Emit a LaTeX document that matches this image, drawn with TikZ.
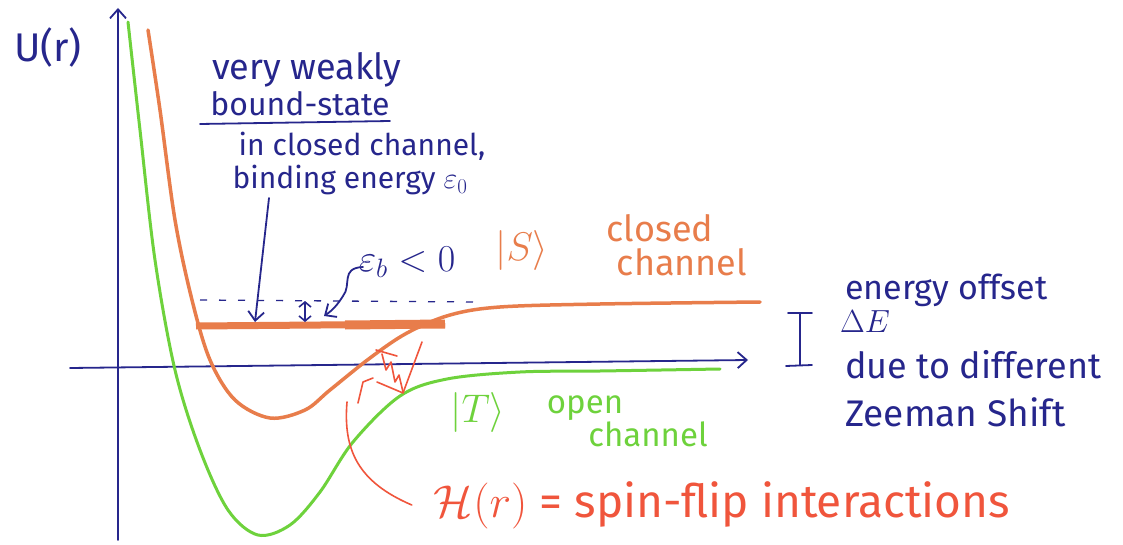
\RequirePackage{fix-cm}
\documentclass[tikz,border=0pt]{standalone}
\usepackage{fontspec}
\setmainfont{Fira Sans}
\usetikzlibrary{arrows.meta,calc}
\definecolor{pen}{RGB}{38,38,140}
\definecolor{closedc}{RGB}{232,125,75}
\definecolor{openc}{RGB}{110,210,60}
\definecolor{flipc}{RGB}{240,85,60}
\tikzset{
  penline/.style={draw=pen, line width=1.8pt, line cap=round, line join=round},
  closedline/.style={draw=closedc, line width=3.5pt, line cap=round},
  openline/.style={draw=openc, line width=3pt, line cap=round},
  flipline/.style={draw=flipc, line width=1.6pt, line cap=round, line join=round},
  barb/.style={-{Straight Barb[length=9pt,width=16pt,line width=1.8pt]}},
  txt/.style={inner sep=0pt, font=\fontsize{#1}{#1}\selectfont},
  txt/.default=30
}
\begin{document}
\begin{tikzpicture}[x=1pt,y=-1pt]
\useasboundingbox[fill=white] (0,0) rectangle (1123,545);

% axes
\coordinate (yB) at (118,540);
\coordinate (yT) at (118,8);
\coordinate (xL) at (70,368);
\coordinate (xR) at (748,360);
\draw[penline,barb] (yB) -- (yT);
\draw[penline,barb] (xL) -- (xR);
\node[txt=40,text=pen] (U) at (48,48) {U(r)};

% open channel (green)
\draw[openline] plot[smooth,tension=0.55] coordinates {(128,22) (140,130) (155,260) (175,370) (200,450) (228,510) (258,535) (290,525) (320,492) (353,442) (400,396) (447,379) (520,372) (600,371) (720,369)};

% closed channel (orange)
\draw[closedline] plot[smooth,tension=0.55] coordinates {(148,30) (160,110) (175,220) (192,300) (210,360) (235,400) (270,418) (305,410) (330,390) (370,358) (407,333) (450,315) (500,307) (600,304) (760,302)};

% bound state line
\coordinate (bsL) at (196,326);
\coordinate (bsR) at (445,324);
\coordinate (bsA) at (255,322);
\draw[draw=closedc, line width=7pt] (bsL) -- (bsR);
\draw[draw=closedc, line width=9pt] (345,325) -- (445,324);

% dashed level
\coordinate (dL) at (200,300);
\coordinate (dR) at (475,302);
\draw[pen, line width=1.3pt, dash pattern=on 7pt off 12pt] (dL) -- (dR);

% annotation text
\node[txt=36,text=pen] (weakly) at (307,70) {very weakly};
\node[txt=32,text=pen] (bound) at (300,104) {bound-state};
\draw[penline] (200,124) -- (390,121);
\node[txt=30,text=pen] (inclosed) at (362,146) {in closed channel,};
\node[txt=30,text=pen] (binding) at (350,180) {binding energy $\varepsilon_0$};
\coordinate (arrTop) at (269,198);
\draw[penline,barb] (arrTop) -- (bsA);

% small double arrow
\coordinate (dbT) at (305,301);
\coordinate (dbB) at (305,322);
\draw[penline,{Straight Barb[length=5pt,width=12pt,line width=1.6pt]}-{Straight Barb[length=5pt,width=12pt,line width=1.6pt]}] (dbT) -- (dbB);

% epsilon_b label and squiggle arrow
\node[txt=38,text=pen] (eb) at (407,262) {$\varepsilon_b<0$};
\coordinate (sqS) at (363,267);
\coordinate (sqE) at (324,316);
\draw[penline,barb] (sqS) .. controls (340,268) and (352,285) .. (343,296) .. controls (338,304) and (333,310) .. (sqE);

% closed channel label
\node[txt=40,text=closedc] (S) at (522,250) {$|S\rangle$};
\node[txt=36,text=closedc] (closed) at (660,228) {closed};
\node[txt=36,text=closedc] (channelS) at (682,262) {channel};

% energy offset bar
\coordinate (barT) at (800,313);
\coordinate (barB) at (800,365);
\draw[penline] (barT) -- (barB);
\draw[penline] (788,313) -- (812,313);
\draw[penline] (786,366) -- (812,365);

\node[txt=34,text=pen,anchor=west] (eo) at (845,290) {energy offset};
\node[txt=32,text=pen,anchor=west] (dE) at (840,322) {$\Delta E$};
\node[txt=36,text=pen,anchor=west] (due) at (845,365) {due to different};
\node[txt=37,text=pen,anchor=west] (zee) at (845,412) {Zeeman Shift};

% open channel label
\node[txt=40,text=openc] (T) at (478,412) {$|T\rangle$};
\node[txt=33,text=openc] (open) at (585,408) {open};
\node[txt=33,text=openc] (chan) at (648,434) {channel};

% spin-flip coupling
\draw[flipline] (376,350) -- (397,356);
\draw[flipline] (382,354) -- (386,370) -- (391,362) -- (395,382) -- (399,375) -- (403,392);
\draw[flipline] (422,342) -- (403,393) -- (377,382);
\draw[flipline] (358,403) -- (363,382) -- (373,378);

\node[txt=46,text=flipc] (flip) at (722,505) {$\mathcal{H}(r)$ = spin-flip interactions};
\coordinate (flipS) at (347,402);
\draw[flipline] (flipS) .. controls (343,450) and (358,482) .. ($(flip.west)+(-22,0)$);
\end{tikzpicture}
\end{document}
